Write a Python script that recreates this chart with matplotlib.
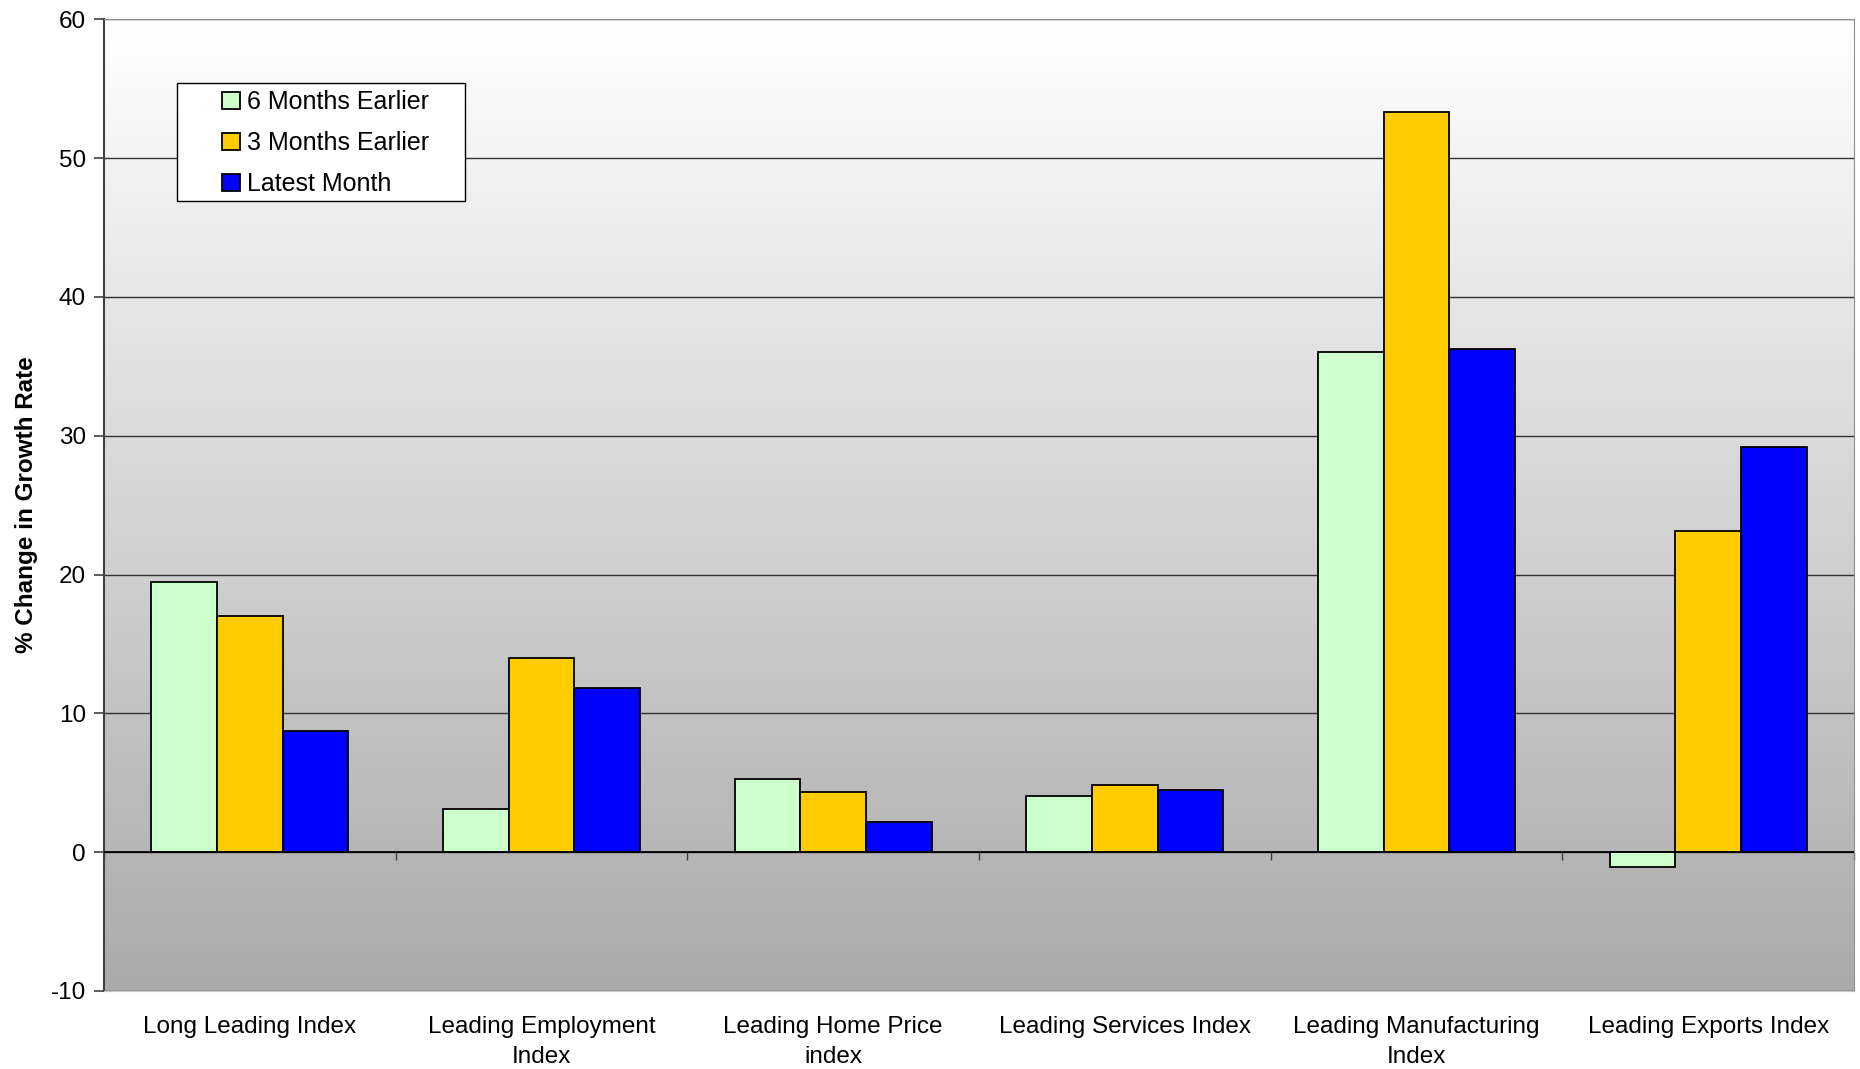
import matplotlib.pyplot as plt
import numpy as np
from matplotlib.patches import Rectangle
from matplotlib.colors import LinearSegmentedColormap

plt.rcParams['font.family'] = ['Liberation Sans', 'DejaVu Sans']

# ================= DATA =================
categories = ["Long Leading Index", "Leading Employment\nIndex", "Leading Home Price\nindex",
              "Leading Services Index", "Leading Manufacturing\nIndex", "Leading Exports Index"]
series_names = ["6 Months Earlier", "3 Months Earlier", "Latest Month"]
six_months = [19.45, 3.1, 5.25, 4.05, 36.0, -1.1]
three_months = [17.0, 14.0, 4.3, 4.85, 53.3, 23.15]
latest = [8.7, 11.85, 2.15, 4.5, 36.25, 29.15]
colors = ["#CCFFCC", "#FFCC00", "#0000FF"]
yticks = list(range(-10, 61, 10))

# ================= FIGURE =================
fig = plt.figure(figsize=(18.6, 10.69), dpi=100)
ax = fig.add_axes([0.0559, 0.073, 0.9409, 0.909])

# gradient background: gray at bottom, white at top
grad = np.linspace(0, 1, 256).reshape(-1, 1)
cmap = LinearSegmentedColormap.from_list('g', ['#aaaaaa', '#ffffff'])
ax.imshow(grad, extent=[0, 1, 0, 1], transform=ax.transAxes, cmap=cmap,
          vmin=0, vmax=1, aspect='auto', zorder=0, origin='lower')

x = np.arange(len(categories))
w = 0.225
for k, (vals, name) in enumerate(zip([six_months, three_months, latest], series_names)):
    ax.bar(x + (k - 1) * w, vals, width=w, color=colors[k], edgecolor='black',
           linewidth=1.3, label=name, zorder=3)

ax.set_xlim(-0.5, len(categories) - 0.5)
ax.set_ylim(-10, 60)
ax.set_yticks(yticks)
ax.set_yticklabels([str(t) for t in yticks], fontsize=17.5)
ax.yaxis.grid(True, color='#333333', linewidth=1.0, zorder=1)
ax.set_axisbelow(True)
ax.axhline(0, color='black', linewidth=1.3, zorder=4)

ax.set_xticks(x)
ax.set_xticklabels(categories, fontsize=17.5, linespacing=1.45)
ax.tick_params(axis='x', length=0, pad=18)
ax.tick_params(axis='y', length=7, width=1.2, color='#404040', pad=6)

for s in ['top', 'right']:
    ax.spines[s].set_color('#909090')
ax.spines['bottom'].set_color('#c8c8c8')
ax.spines['left'].set_color('#404040')
ax.spines['left'].set_linewidth(1.5)

# category boundary ticks on the zero line
sec = ax.secondary_xaxis(10 / 70)
sec.set_xticks(np.arange(-0.5, len(categories), 1.0))
sec.set_xticklabels([])
sec.tick_params(length=6, width=1.0, color='#404040', direction='out')
sec.spines['bottom'].set_visible(False)

ax.set_ylabel("% Change in Growth Rate", fontsize=17.5, fontweight='bold', labelpad=9)

# legend
ax.add_patch(Rectangle((0.0417, 0.8128), 0.1646, 0.1214, transform=ax.transAxes,
                       facecolor='white', edgecolor='black', linewidth=1.0, zorder=5))
leg = ax.legend(loc='upper left', bbox_to_anchor=(0.0675, 0.927), frameon=False,
                fontsize=18, handlelength=0.7, handleheight=0.7, handletextpad=0.3,
                labelspacing=0.68, borderpad=0, borderaxespad=0)
leg.set_zorder(6)

plt.savefig("out.png", dpi=100)
